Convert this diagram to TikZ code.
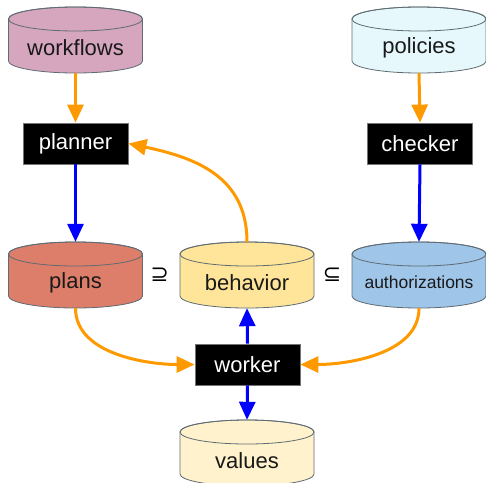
\documentclass[tikz,border=0pt]{standalone}
\usepackage{fontspec}
\setmainfont{Liberation Sans}
\newfontfamily\symfont{DejaVu Sans}
\usetikzlibrary{arrows.meta}

\definecolor{flowOrange}{HTML}{FF9900}
\definecolor{flowBlue}{HTML}{0000FF}
\definecolor{cylEdge}{HTML}{5F6B73}
\definecolor{cWorkflows}{HTML}{D5A6BD}
\definecolor{cPolicies}{HTML}{E6F8FC}
\definecolor{cPlans}{HTML}{DD7E6B}
\definecolor{cBehavior}{HTML}{FFE599}
\definecolor{cAuth}{HTML}{9FC5E8}
\definecolor{cValues}{HTML}{FFF2CC}

\tikzset{
  x=1pt, y=-1pt,
  cylline/.style={draw=cylEdge, line width=0.8pt},
  procbox/.style={fill=black, draw=black!55, line width=0.8pt, text=white,
    font=\fontsize{22}{24}\selectfont, minimum width=105pt, minimum height=41pt, inner sep=0pt},
  tiphead/.style={-{Triangle[length=18pt,width=16pt]}},
  feed/.style={draw=flowOrange, line width=3pt, tiphead},
  ctrl/.style={draw=flowBlue, line width=3pt, tiphead},
  sym/.style={font=\symfont\fontsize{22}{24}\selectfont}
}

% data store drawn as a cylinder: name, centre x, centre y, fill, label, font size
\newcommand{\storecyl}[6]{%
  \begin{scope}[shift={(#2,#3)}]
    \filldraw[cylline, fill=#4] (-67,-21) -- (-67,21)
      arc[start angle=180, end angle=360, x radius=67pt, y radius=12pt]
      -- (67,-21)
      arc[start angle=0, end angle=180, x radius=67pt, y radius=12pt] -- cycle;
    \draw[cylline] (0,-21) ellipse[x radius=67pt, y radius=12pt];
  \end{scope}
  \node[minimum width=134pt, minimum height=66pt, inner sep=0pt] (#1) at (#2,#3) {};
  \node[font=\fontsize{#6}{24}\selectfont, text=black!90] at (#2,#3+7.5) {#5};
}

\begin{document}
\begin{tikzpicture}
  \useasboundingbox (0,0) rectangle (486,482);

  % stores
  \storecyl{workflows}{75.5}{40}{cWorkflows}{workflows}{22}
  \storecyl{policies}{419}{40}{cPolicies}{policies}{22}
  \storecyl{plans}{75.5}{275}{cPlans}{plans}{22}
  \storecyl{behavior}{247}{275}{cBehavior}{behavior}{22}
  \storecyl{auth}{419}{275}{cAuth}{authorizations}{17.5}
  \storecyl{values}{247}{453}{cValues}{values}{22}

  % processes
  \node[procbox] (planner) at (75.5,143.5) {planner};
  \node[procbox] (checker) at (420,143.5) {checker};
  \node[procbox] (worker) at (247.5,364.5) {worker};

  % set relations between the stores
  \node[sym] (sup) at (159.5,275) {⊇};
  \node[sym] (sub) at (332,275) {⊆};

  % data feeds
  \draw[feed] (workflows.south) -- (planner.north);
  \draw[feed] (policies.south) -- (checker.north);
  \draw[feed] (behavior.north) to[out=90, in=-12, looseness=1.1] (planner.east);
  \draw[feed] (plans.south) to[out=-90, in=180, looseness=0.9] (worker.west);
  \draw[feed] (auth.south) to[out=-90, in=0, looseness=0.9] (worker.east);

  % control flow
  \draw[ctrl] (planner.south) -- (plans.north);
  \draw[ctrl] (checker.south) -- (auth.north);
  \draw[ctrl] (worker.north) -- (behavior.south);
  \draw[ctrl] (worker.south) -- (values.north);
\end{tikzpicture}
\end{document}
